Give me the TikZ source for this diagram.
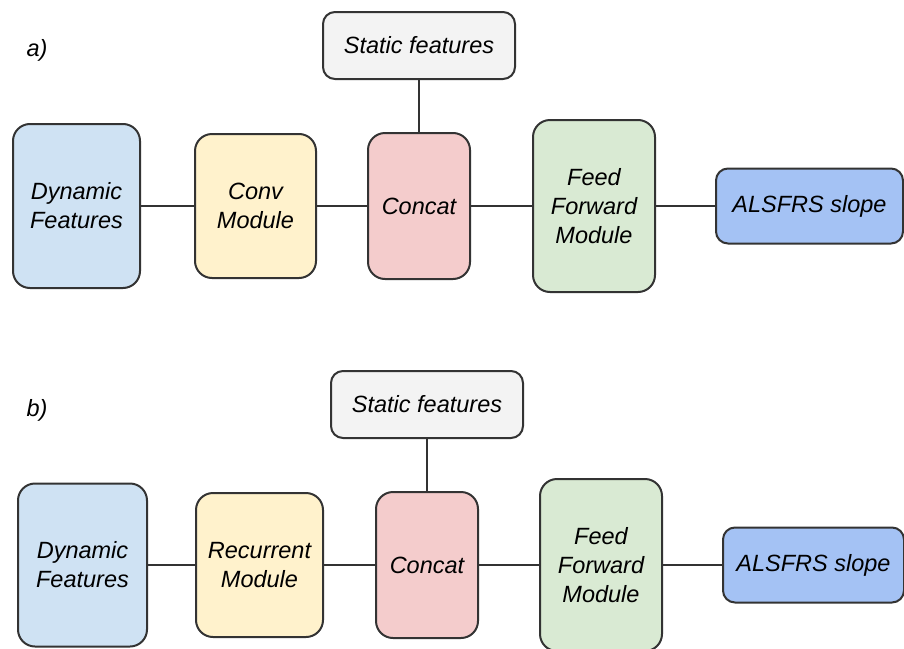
\documentclass[tikz,border=0pt]{standalone}
\usepackage{fontspec}
\setmainfont{Liberation Sans}
\usepackage{tikz}

\definecolor{dynblue}{HTML}{CFE2F3}
\definecolor{modyellow}{HTML}{FFF2CC}
\definecolor{catpink}{HTML}{F4CCCC}
\definecolor{stagray}{HTML}{F3F3F3}
\definecolor{ffgreen}{HTML}{D9EAD3}
\definecolor{outblue}{HTML}{A4C2F4}
\definecolor{edge}{HTML}{333333}

\begin{document}
\begin{tikzpicture}[
		x=1pt, y=-1pt,
		every node/.style={font=\fontsize{23.5}{29}\selectfont\itshape},
		blk/.style={draw=edge, line width=2pt, rounded corners=17pt, align=center, inner sep=0pt},
		link/.style={draw=edge, line width=2pt}
		]
		\useasboundingbox (0,0) rectangle (904,648);
		% a) convolutional model
		\node[anchor=west] (la) at (23,50) {a)};
		\node[blk, fill=dynblue, minimum width=127pt, minimum height=164pt] (dyna) at (76.5,206) {Dynamic\\Features};
		\node[blk, fill=modyellow, minimum width=121pt, minimum height=144pt] (conva) at (255.5,206) {Conv\\Module};
		\node[blk, fill=catpink, minimum width=102pt, minimum height=146pt] (cata) at (419,206) {Concat};
		\node[blk, fill=stagray, minimum width=192pt, minimum height=67pt, rounded corners=12pt] (staa) at (419,45.5) {Static features};
		\node[blk, fill=ffgreen, minimum width=122pt, minimum height=172pt] (ffa) at (594,206) {Feed\\Forward\\Module};
		\node[blk, fill=outblue, minimum width=187pt, minimum height=75pt, rounded corners=12pt] (outa) at (809.5,206) {ALSFRS slope};
		\draw[link] (dyna) -- (conva);
		\draw[link] (conva) -- (cata);
		\draw[link] (staa) -- (cata);
		\draw[link] (cata) -- (ffa);
		\draw[link] (ffa) -- (outa);
		% b) recurrent model
		\node[anchor=west] (lb) at (23,410) {b)};
		\node[blk, fill=dynblue, minimum width=129pt, minimum height=163pt] (dynb) at (82.5,565) {Dynamic\\Features};
		\node[blk, fill=modyellow, minimum width=127pt, minimum height=144pt] (recb) at (259.5,565) {Recurrent\\Module};
		\node[blk, fill=catpink, minimum width=102pt, minimum height=146pt] (catb) at (427,565) {Concat};
		\node[blk, fill=stagray, minimum width=192pt, minimum height=67pt, rounded corners=12pt] (stab) at (427,404.5) {Static features};
		\node[blk, fill=ffgreen, minimum width=122pt, minimum height=172pt] (ffb) at (601,565) {Feed\\Forward\\Module};
		\node[blk, fill=outblue, minimum width=181pt, minimum height=75pt, rounded corners=12pt] (outb) at (813.5,565) {ALSFRS slope};
		\draw[link] (dynb) -- (recb);
		\draw[link] (recb) -- (catb);
		\draw[link] (stab) -- (catb);
		\draw[link] (catb) -- (ffb);
		\draw[link] (ffb) -- (outb);
	\end{tikzpicture}
\end{document}
